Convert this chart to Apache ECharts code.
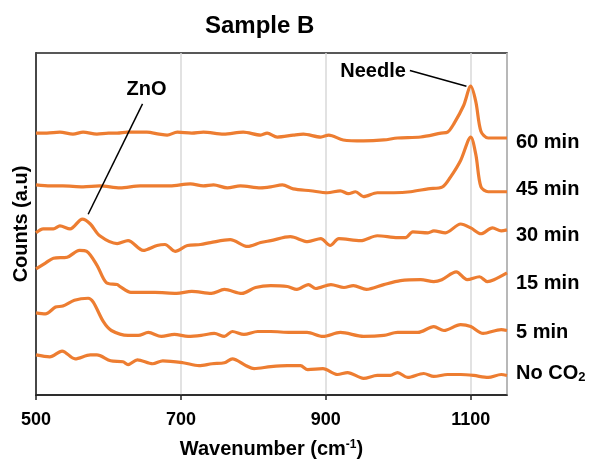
<!DOCTYPE html>
<html>
<head>
<meta charset="utf-8">
<script src="https://cdn.jsdelivr.net/npm/echarts@6/dist/echarts.min.js"></script>
<style>
    html, body { margin: 0; padding: 0; background: #fff; }
    #chart { width: 590px; height: 464px; }
</style>
</head>
<body>
<div id="chart"></div>
<script>
// Spectra, [wavenumber, stacked counts]
const min60 = [[500,268],[515,268],[533,269],[551,267],[565,269],[584,267],[600,268],[612,268],[626,269],[653,269],[670,267],[681,266],[695,269],[715,268],[731,269],[759,267],[786,269],[810,266],[819,268],[833,264],[855,266],[869,267],[893,264],[904,266],[924,261],[952,260],[980,261],[999,263],[1031,264],[1059,268],[1068,269],[1077,278],[1090,296],[1100,316],[1107,300],[1114,270],[1124,263],[1142,263],[1150,263]];
const min45 = [[500,215],[520,214],[537,214],[565,213],[588,214],[616,212],[644,214],[665,214],[685,214],[713,216],[731,214],[745,215],[764,212],[782,214],[810,212],[824,213],[840,215],[855,211],[879,209],[902,207],[920,209],[931,206],[941,208],[952,203],[971,207],[994,207],[1017,208],[1041,211],[1061,213],[1072,223],[1086,240],[1100,264],[1107,246],[1114,213],[1124,208],[1150,208]];
const min30 = [[500,166],[510,170],[524,170],[533,173],[547,170],[564,180],[575,175],[588,163],[612,155],[627,158],[648,148],[667,153],[678,154],[692,147],[709,153],[727,154],[741,156],[768,159],[792,152],[810,156],[824,158],[851,162],[875,157],[893,160],[906,153],[918,160],[948,158],[971,163],[999,161],[1010,161],[1020,167],[1041,166],[1049,168],[1065,166],[1086,175],[1100,171],[1114,165],[1130,171],[1142,168],[1150,169]];
const min15 = [[500,129],[513,135],[524,140],[543,141],[560,148],[570,147],[584,133],[597,115],[612,113],[616,111],[631,105],[664,105],[694,104],[715,106],[742,104],[760,108],[784,104],[803,110],[824,112],[847,111],[860,108],[876,113],[886,109],[907,113],[925,110],[938,112],[956,108],[980,113],[1003,117],[1031,118],[1049,116],[1060,118],[1080,126],[1095,118],[1112,121],[1123,116],[1132,118],[1150,125]];
const min5 = [[500,84],[513,83],[527,90],[537,91],[553,97],[572,99],[579,95],[593,75],[604,66],[627,61],[641,61],[655,64],[673,60],[691,62],[710,60],[728,61],[746,63],[760,60],[771,65],[787,62],[806,65],[824,65],[851,64],[874,64],[896,60],[920,64],[952,60],[980,61],[999,64],[1027,64],[1049,70],[1063,66],[1086,72],[1100,70],[1117,63],[1142,67],[1150,66]];
const noCO2 = [[500,41],[519,39],[536,45],[554,37],[575,41],[584,41],[603,35],[620,34],[627,31],[640,36],[661,32],[675,35],[703,33],[725,30],[743,32],[760,33],[771,37],[790,30],[801,27],[824,29],[847,30],[865,30],[875,26],[896,27],[916,21],[930,23],[952,17],[971,20],[989,20],[999,23],[1013,18],[1035,22],[1049,19],[1068,21],[1086,21],[1104,20],[1124,18],[1142,21],[1150,20]];

const seriesNames = ['60 min', '45 min', '30 min', '15 min', '5 min', 'No CO{sub|2}'];
const seriesData = [min60, min45, min30, min15, min5, noCO2];
const labelShift = [4, -2, 6, 11, 2, -2];

// Annotation leader lines: first point carries the text
const znoLine = [[647,298],[572,185]];
const needleLine = [[1016,332],[1094,316]];

const chart = echarts.init(document.getElementById('chart'));

const spectra = seriesData.map((data, i) => ({
    type: 'line',
    data: data,
    smooth: 0.3,
    showSymbol: false,
    symbol: 'none',
    lineStyle: { color: '#ED7D31', width: 3.2 },
    itemStyle: { color: '#ED7D31' },
    z: 2,
    endLabel: {
        show: true,
        formatter: seriesNames[i],
        fontSize: 20,
        fontWeight: 'bold',
        color: '#000',
        distance: 9,
        offset: [0, labelShift[i]],
        rich: {
            sub: { fontSize: 13, fontWeight: 'bold', color: '#000', verticalAlign: 'bottom', padding: [8, 0, 0, 0] }
        }
    }
}));

function leader(data, text, position, offset) {
    return {
        type: 'line',
        data: data,
        symbol: 'circle',
        symbolSize: 0.1,
        showSymbol: true,
        lineStyle: { color: '#000', width: 1.5 },
        itemStyle: { color: '#000' },
        z: 5,
        label: {
            show: true,
            position: position,
            distance: 4,
            offset: offset,
            fontSize: 20,
            fontWeight: 'bold',
            color: '#000',
            formatter: p => p.dataIndex === 0 ? text : ''
        }
    };
}

chart.setOption({
    animation: false,
    textStyle: { fontFamily: 'Liberation Sans, Arial, sans-serif' },
    title: {
        text: 'Sample B',
        left: 200,
        top: 9,
        textStyle: { fontSize: 24, fontWeight: 'bold', color: '#000' }
    },
    grid: {
        left: 36, top: 53, width: 471, height: 350,
        show: true, borderColor: '#222', borderWidth: 1.5
    },
    xAxis: {
        type: 'value',
        min: 500, max: 1150, interval: 200,
        axisLine: { show: true, lineStyle: { color: '#222', width: 1.5 } },
        axisTick: { show: true, length: 5, lineStyle: { color: '#222', width: 1.5 } },
        axisLabel: {
            fontSize: 18, fontWeight: 'bold', color: '#000', margin: 16, showMaxLabel: false,
            formatter: v => String(v)
        },
        splitLine: { show: true, lineStyle: { color: '#d9d9d9', width: 1.5 } },
        name: 'Wavenumber (cm{sup|-1})',
        nameLocation: 'middle',
        nameGap: 44,
        nameTextStyle: {
            fontSize: 20, fontWeight: 'bold', color: '#000',
            rich: { sup: { fontSize: 12, fontWeight: 'bold', color: '#000', verticalAlign: 'top', padding: [0, 0, 8, 0] } }
        }
    },
    yAxis: {
        type: 'value',
        min: 0, max: 350,
        axisLine: { show: true, lineStyle: { color: '#222', width: 1.5 } },
        axisTick: { show: false },
        axisLabel: { show: false },
        splitLine: { show: false },
        name: 'Counts (a.u)',
        nameLocation: 'middle',
        nameGap: 5,
        nameTextStyle: { fontSize: 20, fontWeight: 'bold', color: '#000' }
    },
    series: spectra.concat([
        leader(znoLine, 'ZnO', 'top', [4, 0]),
        leader(needleLine, 'Needle', 'left', [0, 1])
    ])
});
</script>
</body>
</html>
